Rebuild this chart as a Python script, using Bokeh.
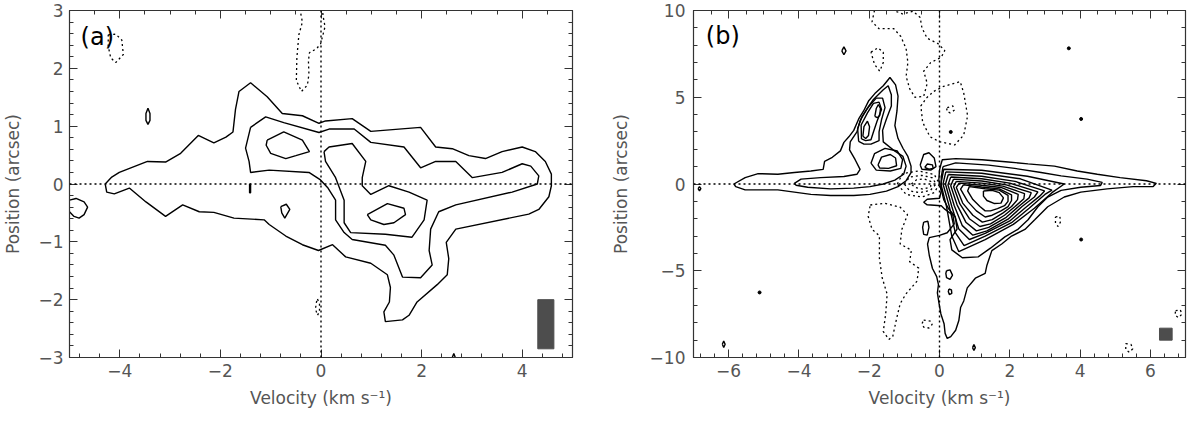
from bokeh.plotting import figure
from bokeh.models import (FixedTicker, LinearAxis, CustomJSTickFormatter, Label,
                          Range1d, Span, ColumnDataSource)
from bokeh.layouts import row
from bokeh.embed import file_html
from bokeh.resources import INLINE

# ---------------- Panel (a) data: contour vertices (velocity km/s, position arcsec)
A_OUTER = [(-4.29, 0.0), (-4.16, 0.12), (-4.01, 0.20), (-3.45, 0.39), (-3.09, 0.38), (-2.79, 0.53),
           (-2.44, 0.84), (-2.13, 0.71), (-1.89, 0.81), (-1.75, 0.90), (-1.70, 1.29), (-1.63, 1.60),
           (-1.40, 1.75), (-1.07, 1.51), (-0.77, 1.22), (-0.37, 1.18), (-0.04, 1.05), (0.09, 1.09),
           (0.62, 1.13), (0.99, 0.91), (1.98, 0.98), (2.28, 0.64), (2.61, 0.61), (2.94, 0.49),
           (3.27, 0.44), (3.60, 0.56), (4.00, 0.64), (4.26, 0.56), (4.46, 0.39), (4.58, 0.17),
           (4.58, -0.03), (4.53, -0.22), (4.33, -0.44), (4.13, -0.52), (2.68, -0.78), (2.49, -1.01),
           (2.54, -1.29), (2.51, -1.57), (2.31, -1.74), (1.91, -2.04), (1.75, -2.27), (1.62, -2.35),
           (1.28, -2.38), (1.25, -2.21), (1.36, -2.04), (1.38, -1.79), (1.32, -1.57), (0.99, -1.37),
           (0.49, -1.26), (0.23, -1.05), (-0.05, -1.15), (-0.37, -1.05), (-0.70, -0.90), (-1.03, -0.70),
           (-1.13, -0.62), (-1.73, -0.59), (-2.13, -0.49), (-2.42, -0.48), (-2.75, -0.36), (-3.09, -0.56),
           (-3.48, -0.31), (-3.81, -0.07), (-4.11, -0.17), (-4.26, -0.14)]
A_MID = [(-1.40, 0.98), (-1.10, 1.16), (-0.74, 1.06), (-0.04, 0.89), (0.16, 0.95), (0.66, 0.95),
         (0.99, 0.72), (1.65, 0.64), (1.98, 0.28), (2.28, 0.39), (2.68, 0.39), (3.01, 0.11),
         (3.60, 0.20), (4.00, 0.35), (4.17, 0.31), (4.33, 0.14), (4.30, 0.0), (3.80, -0.14),
         (2.68, -0.36), (2.34, -0.48), (2.18, -0.78), (2.15, -1.15), (2.21, -1.40), (1.98, -1.62),
         (1.62, -1.61), (1.45, -1.23), (1.28, -1.06), (0.62, -0.96), (0.46, -0.84), (0.29, -0.62),
         (0.29, -0.28), (0.13, -0.06), (-0.01, 0.07), (-0.24, 0.20), (-1.03, 0.24), (-1.40, 0.20),
         (-1.43, 0.39), (-1.50, 0.62)]
A_IN_LEFT = [(-1.07, 0.76), (-0.74, 0.90), (-0.37, 0.76), (-0.23, 0.56), (-0.50, 0.49), (-0.70, 0.44),
             (-1.00, 0.53), (-1.09, 0.67)]
A_IN_RIGHT = [(0.06, 0.56), (0.16, 0.64), (0.62, 0.70), (0.89, 0.39), (0.82, 0.11), (0.82, -0.03),
              (0.99, -0.18), (1.35, -0.03), (1.75, -0.14), (2.11, -0.28), (2.05, -0.62), (1.81, -0.92),
              (1.28, -0.87), (0.59, -0.84), (0.46, -0.67), (0.46, -0.28), (0.29, 0.11), (0.09, 0.39)]
A_PEAK = [(0.92, -0.53), (1.32, -0.34), (1.65, -0.42), (1.68, -0.53), (1.45, -0.67), (1.25, -0.70),
          (0.99, -0.62)]
A_BLOB1 = [(-3.44, 1.31), (-3.40, 1.22), (-3.40, 1.10), (-3.44, 1.03), (-3.48, 1.10), (-3.48, 1.22)]
A_BLOB2 = [(-0.80, -0.39), (-0.69, -0.35), (-0.62, -0.44), (-0.72, -0.59), (-0.78, -0.50)]
A_BLOB3 = [(-1.42, 0.0), (-1.40, 0.0), (-1.40, -0.15), (-1.42, -0.15)]
A_EDGE = [(-5.0, -0.28), (-4.87, -0.25), (-4.71, -0.31), (-4.64, -0.40), (-4.71, -0.53),
          (-4.81, -0.59), (-4.91, -0.56), (-5.0, -0.48)]
A_TICKMARK = [(2.61, -3.0), (2.64, -2.93), (2.67, -3.0)]
A_NEG1 = [(-4.23, 2.58), (-4.08, 2.59), (-3.96, 2.49), (-3.93, 2.24), (-4.08, 2.10), (-4.18, 2.18),
          (-4.23, 2.38)]
A_NEG2 = [(-0.42, 3.03), (-0.37, 2.80), (-0.44, 2.58), (-0.48, 2.18), (-0.49, 1.79), (-0.39, 1.60),
          (-0.27, 1.71), (-0.24, 1.90), (-0.25, 2.13), (-0.23, 2.27), (-0.09, 2.34), (-0.01, 2.42),
          (0.03, 2.55), (0.08, 2.72), (0.04, 2.91), (0.03, 3.03)]
A_NEG3 = [(-0.07, -1.99), (-0.03, -2.07), (-0.03, -2.21), (-0.07, -2.27), (-0.11, -2.16), (-0.09, -2.04)]
A_BEAM = dict(left=[4.31], right=[4.63], bottom=[-2.85], top=[-2.0])

# ---------------- Panel (b) data
B_L1 = [(-5.85, 0.0), (-5.53, 0.37), (-5.16, 0.6), (-4.6, 0.56), (-4.13, 0.66), (-3.66, 0.75),
        (-3.31, 0.84), (-3.27, 1.31), (-3.05, 1.54), (-2.82, 1.91), (-2.72, 2.4), (-2.58, 2.72),
        (-2.44, 3.09), (-2.3, 3.75), (-2.16, 4.21), (-2.02, 4.78), (-1.84, 5.21), (-1.6, 5.66),
        (-1.41, 6.14), (-1.25, 5.71), (-1.18, 5.06), (-1.21, 4.21), (-1.27, 3.37), (-1.18, 2.62),
        (-1.04, 2.06), (-0.9, 1.59), (-0.81, 1.03), (-0.81, 0.66), (-0.95, 0.19), (-1.18, -0.15),
        (-1.51, -0.41), (-1.98, -0.6), (-2.44, -0.66), (-3.1, -0.66), (-3.66, -0.6), (-4.13, -0.47),
        (-4.6, -0.34), (-5.53, -0.34), (-5.8, -0.15)]
B_L2 = [(-4.13, 0.04), (-3.94, 0.28), (-3.38, 0.37), (-2.72, 0.43), (-2.35, 0.56), (-2.26, 0.84),
        (-2.4, 1.4), (-2.56, 1.97), (-2.54, 2.43), (-2.35, 3.0), (-2.26, 3.65), (-2.07, 4.31),
        (-1.88, 4.87), (-1.6, 5.43), (-1.46, 5.66), (-1.37, 5.15), (-1.37, 4.49), (-1.51, 3.75),
        (-1.62, 3.09), (-1.6, 2.43), (-1.32, 1.97), (-1.04, 1.59), (-0.95, 1.03), (-1.02, 0.56),
        (-1.27, 0.22), (-1.6, 0.0), (-1.98, -0.15), (-2.44, -0.24), (-3.1, -0.28), (-3.75, -0.19),
        (-4.08, -0.07)]
B_L3 = [(-2.3, 2.45), (-2.33, 3.2), (-2.2, 3.9), (-2.0, 4.5), (-1.8, 4.95), (-1.62, 4.95), (-1.55, 4.4),
        (-1.65, 3.7), (-1.72, 3.0), (-1.72, 2.5), (-1.95, 2.3), (-2.15, 2.3)]
B_L4 = [(-2.22, 2.6), (-2.23, 3.4), (-2.05, 4.1), (-1.88, 4.65), (-1.72, 4.72), (-1.65, 4.3),
        (-1.78, 3.6), (-1.88, 3.0), (-1.95, 2.55), (-2.1, 2.5)]
B_L5 = [(-1.84, 3.9), (-1.8, 4.35), (-1.74, 4.58), (-1.68, 4.35), (-1.7, 3.95), (-1.77, 3.82)]
B_L6 = [(-2.18, 2.75), (-2.15, 3.3), (-2.05, 3.62), (-1.99, 3.3), (-2.02, 2.8), (-2.1, 2.62)]
B_L7 = [(-1.95, 1.2), (-1.85, 1.75), (-1.55, 2.05), (-1.2, 1.9), (-1.05, 1.4), (-1.1, 0.9), (-1.4, 0.75),
        (-1.8, 0.8)]
B_L8 = [(-1.75, 1.1), (-1.65, 1.55), (-1.4, 1.7), (-1.25, 1.5), (-1.22, 1.05), (-1.45, 0.9), (-1.7, 0.92)]
B_S1 = [(-0.55, 1.1), (-0.45, 1.7), (-0.3, 1.8), (-0.15, 1.5), (-0.1, 1.0), (-0.25, 0.8), (-0.5, 0.85)]
B_S2 = [(-0.42, 0.95), (-0.35, 1.15), (-0.2, 1.1), (-0.18, 0.9), (-0.3, 0.85)]
B_R1 = [(0.05, 1.2), (0.08, 1.40), (0.46, 1.46), (1.21, 1.40), (1.96, 1.27), (2.52, 1.16), (3.27, 1.03),
        (3.92, 0.75), (4.49, 0.56), (5.14, 0.37), (5.89, 0.19), (6.17, 0.04), (6.08, -0.15),
        (5.51, -0.15), (4.77, -0.28), (4.02, -0.47), (3.55, -0.75), (3.08, -1.31), (2.71, -2.06),
        (2.43, -2.62), (2.05, -3.0), (1.77, -3.46), (1.49, -3.84), (1.35, -4.68), (1.30, -5.15),
        (1.02, -5.43), (0.79, -5.99), (0.69, -6.74), (0.60, -7.12), (0.55, -7.87), (0.46, -8.43),
        (0.32, -8.80), (0.22, -8.9), (0.16, -8.61), (0.13, -8.05), (0.04, -7.49), (-0.01, -6.93),
        (-0.06, -6.27), (-0.03, -5.8), (-0.08, -5.34), (-0.2, -4.87), (-0.29, -4.12), (-0.34, -3.46),
        (-0.29, -3.09), (0.0, -2.96), (0.22, -2.81), (0.42, -2.3), (0.38, -1.8), (0.15, -1.45),
        (0.05, -1.25), (-0.35, -1.2), (-0.45, -1.05), (-0.35, -0.88), (0.0, -0.82), (0.05, -0.4),
        (-0.02, 0.2), (0.0, 0.8)]
B_R2 = [(0.1, 1.0), (0.46, 1.22), (1.40, 1.09), (2.14, 0.9), (2.89, 0.66), (3.46, 0.47), (4.2, 0.28),
        (4.63, 0.09), (4.58, -0.09), (4.02, -0.19), (3.46, -0.37), (3.08, -0.75), (2.8, -1.31),
        (2.52, -2.06), (2.24, -2.6), (1.86, -3.05), (1.45, -3.7), (1.1, -4.2), (0.65, -4.25),
        (0.35, -3.8), (0.3, -3.2), (0.5, -2.6), (0.45, -1.9), (0.25, -1.4), (0.12, -0.9), (0.05, -0.3),
        (0.05, 0.4)]
B_R3 = [(0.12, 0.85), (1.2, 0.79), (2.5, 0.45), (3.55, 0.0), (3.2, -0.5), (2.7, -1.4), (2.1, -2.33),
        (1.3, -3.2), (0.55, -3.9), (0.35, -3.0), (0.2, -1.3), (0.04, 0.0)]
B_R4 = [(0.18, 0.7), (1.2, 0.62), (2.3, 0.3), (3.2, -0.35), (3.0, -0.6), (2.55, -1.4), (2.05, -2.23),
        (1.3, -3.0), (0.7, -3.55), (0.45, -2.8), (0.28, -1.3), (0.1, 0.0)]
B_R5 = [(0.25, 0.55), (1.2, 0.45), (2.15, 0.15), (2.99, -0.4), (2.85, -0.7), (2.45, -1.35), (2.0, -2.13),
        (1.3, -2.85), (0.85, -3.2), (0.55, -2.6), (0.35, -1.3), (0.17, 0.0)]
B_R6 = [(0.32, 0.4), (1.2, 0.3), (2.0, 0.05), (2.8, -0.45), (2.7, -0.75), (2.35, -1.3), (1.95, -2.03),
        (1.35, -2.7), (0.95, -2.95), (0.65, -2.4), (0.42, -1.25), (0.24, -0.05)]
B_R7 = [(0.4, 0.28), (1.2, 0.17), (1.9, -0.05), (2.61, -0.5), (2.55, -0.8), (2.25, -1.3), (1.9, -1.92),
        (1.4, -2.5), (1.05, -2.7), (0.75, -2.2), (0.5, -1.2), (0.32, -0.1)]
B_R8 = [(0.48, 0.15), (1.2, 0.05), (1.8, -0.12), (2.42, -0.55), (2.4, -0.85), (2.15, -1.3), (1.85, -1.8),
        (1.45, -2.3), (1.15, -2.45), (0.85, -2.0), (0.58, -1.15), (0.4, -0.15)]
B_R9 = [(0.56, 0.05), (1.2, -0.07), (1.75, -0.2), (2.24, -0.6), (2.22, -0.9), (2.05, -1.3), (1.8, -1.68),
        (1.5, -2.05), (1.22, -2.2), (0.95, -1.8), (0.66, -1.1), (0.48, -0.2)]
B_R10 = [(0.68, -0.05), (1.2, -0.17), (1.7, -0.28), (2.05, -0.62), (2.05, -0.95), (1.95, -1.3),
         (1.75, -1.55), (1.5, -1.8), (1.3, -1.9), (1.05, -1.55), (0.8, -1.0), (0.6, -0.3)]
B_R11 = [(0.85, -0.15), (1.3, -0.27), (1.7, -0.35), (1.95, -0.65), (1.95, -1.0), (1.85, -1.25),
         (1.65, -1.42), (1.45, -1.55), (1.3, -1.55), (1.15, -1.3), (0.95, -0.9), (0.8, -0.4)]
B_R12 = [(1.25, -0.4), (1.5, -0.37), (1.7, -0.5), (1.82, -0.8), (1.75, -1.1), (1.55, -1.12),
         (1.35, -0.95), (1.25, -0.7)]
B_ARM1 = [(0.2, -5.0), (0.3, -4.95), (0.37, -5.25), (0.3, -5.5), (0.2, -5.4), (0.18, -5.15)]
B_ARM2 = [(0.27, -6.05), (0.34, -6.1), (0.35, -6.3), (0.28, -6.37), (0.25, -6.2)]
B_ARM3 = [(-0.45, -2.2), (-0.33, -2.15), (-0.3, -2.5), (-0.35, -2.95), (-0.45, -2.9), (-0.48, -2.5)]
B_BLOB1 = [(-2.78, 7.67), (-2.72, 7.9), (-2.66, 7.67), (-2.72, 7.45)]
B_BLOB2 = [(-6.18, -9.24), (-6.14, -9.05), (-6.1, -9.24), (-6.14, -9.42)]
B_BLOB3 = [(0.94, -9.43), (0.98, -9.25), (1.02, -9.43), (0.98, -9.6)]
B_BLOB4 = [(-6.87, -0.27), (-6.83, -0.15), (-6.79, -0.27), (-6.83, -0.4)]
B_DOTS_X = [3.68, 4.03, 4.03, -5.12, 0.32]
B_DOTS_Y = [7.82, 3.75, -3.2, -6.25, 3.0]

B_N1 = [(-1.85, 10.0), (-1.92, 9.35), (-1.72, 8.95), (-1.3, 8.95), (-1.1, 8.5), (-0.95, 7.8), (-0.9, 7.0),
        (-0.95, 6.2), (-0.85, 5.5), (-0.7, 5.0), (-0.45, 5.05), (-0.35, 5.8), (-0.45, 6.5), (-0.25, 7.0),
        (0.05, 7.3), (0.15, 7.7), (-0.05, 8.1), (-0.35, 8.4), (-0.5, 9.0), (-0.55, 9.6), (-0.75, 9.95),
        (-1.05, 9.8), (-1.3, 10.0)]
B_N2 = [(-0.16, 5.34), (0.11, 5.62), (0.59, 5.9), (0.69, 5.24), (0.8, 3.93), (0.69, 2.82), (0.43, 2.25),
        (0.0, 2.44), (-0.27, 2.72), (-0.48, 3.56), (-0.53, 4.5), (-0.37, 4.96)]
B_N2IN = [(0.22, 4.4), (0.38, 4.5), (0.42, 4.25), (0.3, 4.1), (0.2, 4.2)]
B_N3A = [(-1.2, 0.0), (-1.05, 0.6), (-0.6, 0.75), (-0.15, 0.55), (0.0, 0.0), (-0.15, -0.5), (-0.5, -0.75),
         (-0.95, -0.6)]
B_N3B = [(-1.0, 0.0), (-0.85, 0.4), (-0.5, 0.5), (-0.2, 0.35), (-0.1, 0.0), (-0.25, -0.35), (-0.55, -0.5),
         (-0.85, -0.4)]
B_N3C = [(-0.8, 0.0), (-0.65, 0.25), (-0.45, 0.3), (-0.25, 0.15), (-0.25, -0.15), (-0.45, -0.3), (-0.7, -0.2)]
B_N4 = [(-1.97, -1.21), (-1.55, -1.11), (-1.12, -1.34), (-0.91, -1.77), (-1.07, -2.61), (-1.12, -3.45),
        (-0.8, -3.82), (-0.85, -4.48), (-0.59, -4.85), (-0.64, -5.6), (-0.96, -6.35), (-1.12, -6.9),
        (-1.23, -7.84), (-1.33, -8.78), (-1.44, -8.96), (-1.6, -8.5), (-1.53, -7.47), (-1.49, -6.35),
        (-1.63, -5.41), (-1.71, -4.29), (-1.71, -2.98), (-1.92, -2.61), (-2.03, -1.86)]
B_N5 = [(-0.45, -7.85), (-0.25, -7.9), (-0.21, -8.1), (-0.3, -8.3), (-0.45, -8.25), (-0.5, -8.05)]
B_N6 = [(5.3, -9.2), (5.45, -9.25), (5.5, -9.5), (5.4, -9.7), (5.3, -9.55)]
B_N7 = [(6.72, -7.3), (6.85, -7.25), (6.9, -7.5), (6.8, -7.7), (6.7, -7.55)]
B_N8 = [(3.3, -1.9), (3.42, -1.85), (3.45, -2.15), (3.38, -2.45), (3.3, -2.3)]
B_N9 = [(-1.95, 7.6), (-1.75, 7.85), (-1.6, 7.6), (-1.6, 7.0), (-1.7, 6.5), (-1.85, 6.9)]
B_BEAM = dict(left=[6.26], right=[6.62], bottom=[-9.0], top=[-8.31])

# ---------------- helpers
TXT = "#555555"
FONT = "DejaVu Sans"


def lines(closed_list, open_list=()):
    xs, ys = [], []
    for pts in closed_list:
        xs.append([p[0] for p in pts] + [pts[0][0]])
        ys.append([p[1] for p in pts] + [pts[0][1]])
    for pts in open_list:
        xs.append([p[0] for p in pts])
        ys.append([p[1] for p in pts])
    return ColumnDataSource(dict(xs=xs, ys=ys))


def style_axes(p, xt, xm, yt, ym):
    minus = CustomJSTickFormatter(code="return tick < 0 ? '\u2212' + (-tick) : '' + tick;")
    blank = CustomJSTickFormatter(code="return '';")
    top = LinearAxis(ticker=FixedTicker(ticks=xt, minor_ticks=xm), formatter=blank)
    right = LinearAxis(ticker=FixedTicker(ticks=yt, minor_ticks=ym), formatter=blank)
    p.add_layout(top, "above")
    p.add_layout(right, "right")
    p.xaxis[0].ticker = FixedTicker(ticks=xt, minor_ticks=xm)
    p.yaxis[0].ticker = FixedTicker(ticks=yt, minor_ticks=ym)
    for ax in [p.below[0], p.left[0]]:
        ax.formatter = minus
        ax.major_label_text_font = FONT
        ax.major_label_text_font_size = "17px"
        ax.major_label_text_color = TXT
        ax.axis_label_text_font = FONT
        ax.axis_label_text_font_size = "17px"
        ax.axis_label_text_font_style = "normal"
        ax.axis_label_text_color = TXT
    for ax in [top, right]:
        ax.major_label_text_font_size = "0px"
        ax.major_label_standoff = 0
    for ax in [p.below[0], p.left[0], top, right]:
        ax.axis_line_color = "#333333"
        ax.axis_line_width = 1.2
        ax.major_tick_line_color = "#333333"
        ax.minor_tick_line_color = "#333333"
        ax.major_tick_in = 8
        ax.major_tick_out = 0
        ax.minor_tick_in = 4
        ax.minor_tick_out = 0
    p.below[0].axis_label = "Velocity (km s\u207b\u00b9)"
    p.left[0].axis_label = "Position (arcsec)"
    p.below[0].major_label_standoff = 6
    p.below[0].axis_label_standoff = 8
    p.grid.visible = False
    p.outline_line_color = "#333333"


def make_fig(xr, yr, fw, fh, left_border, right_border):
    p = figure(x_range=Range1d(*xr), y_range=Range1d(*yr), frame_width=fw, frame_height=fh,
               output_backend="svg", toolbar_location=None,
               min_border_left=left_border, min_border_right=right_border,
               min_border_top=10, min_border_bottom=0,
               background_fill_color="white", border_fill_color="white")
    return p


# ---------------- Panel (a)
pa = make_fig((-5, 5), (-3, 3), 503, 347, 64, 10)
style_axes(pa, [-4, -2, 0, 2, 4], [v / 2 for v in range(-10, 11)],
           [-3, -2, -1, 0, 1, 2, 3], [v / 5 for v in range(-15, 16)])
pa.left[0].major_label_standoff = 6
pa.left[0].axis_label_standoff = 12
pa.add_layout(Span(location=0, dimension="height", line_dash="2 3", line_color="black", line_width=1.4))
pa.add_layout(Span(location=0, dimension="width", line_dash="2 3", line_color="black", line_width=1.4))
pa.multi_line("xs", "ys", source=lines([A_OUTER, A_MID, A_IN_LEFT, A_IN_RIGHT, A_PEAK,
                                        A_BLOB1, A_BLOB2, A_BLOB3],
                                       [A_EDGE, A_TICKMARK]),
              line_color="black", line_width=1.4)
pa.multi_line("xs", "ys", source=lines([A_NEG1, A_NEG3], [A_NEG2]),
              line_color="black", line_width=1.3, line_dash="2 3")
pa.quad(source=ColumnDataSource(A_BEAM), left="left", right="right", bottom="bottom", top="top",
        fill_color="#4d4d4d", line_color="#4d4d4d")
pa.add_layout(Label(x=-4.78, y=2.55, text="(a)", text_baseline="middle", text_font=FONT,
                    text_font_size="24px", text_color="black"))

# ---------------- Panel (b)
pb = make_fig((-7, 7), (-10, 10), 492, 347, 111, 4)
style_axes(pb, [-6, -4, -2, 0, 2, 4, 6], [v / 2 for v in range(-14, 15)],
           [-10, -5, 0, 5, 10], list(range(-10, 11)))
pb.left[0].major_label_standoff = 8
pb.left[0].axis_label_standoff = 16
pb.add_layout(Span(location=0, dimension="height", line_dash="2 3", line_color="black", line_width=1.4))
pb.add_layout(Span(location=0, dimension="width", line_dash="2 3", line_color="black", line_width=1.4))
pb.multi_line("xs", "ys", source=lines([B_L1, B_L2, B_L3, B_L4, B_L5, B_L6, B_L7, B_L8, B_S1, B_S2,
                                        B_R1, B_R2, B_R3, B_R4, B_R5, B_R6, B_R7, B_R8, B_R9, B_R10,
                                        B_R11, B_R12, B_ARM1, B_ARM2, B_ARM3,
                                        B_BLOB1, B_BLOB2, B_BLOB3, B_BLOB4]),
              line_color="black", line_width=1.4)
pb.multi_line("xs", "ys", source=lines([B_N2, B_N2IN, B_N3A, B_N3B, B_N3C, B_N4, B_N5, B_N6, B_N7,
                                        B_N8, B_N9], [B_N1]),
              line_color="black", line_width=1.3, line_dash="2 3")
pb.scatter(x=B_DOTS_X, y=B_DOTS_Y, size=3, color="black")
pb.quad(source=ColumnDataSource(B_BEAM), left="left", right="right", bottom="bottom", top="top",
        fill_color="#4d4d4d", line_color="#4d4d4d")
pb.add_layout(Label(x=-6.65, y=8.55, text="(b)", text_baseline="middle", text_font=FONT,
                    text_font_size="24px", text_color="black"))

layout = row(pa, pb)
open("out.html", "w").write(file_html(layout, INLINE))
